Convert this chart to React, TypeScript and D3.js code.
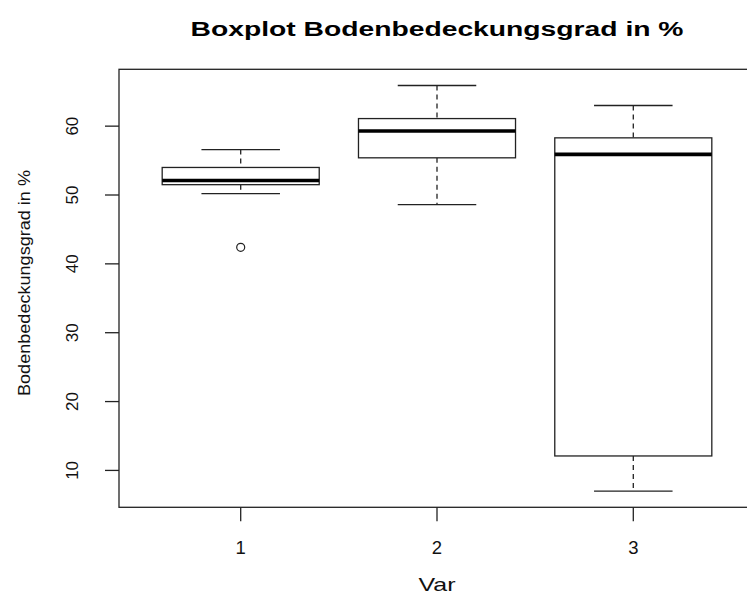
import React from 'react';
import * as d3 from 'd3';

// box statistics
const groups = ['1', '2', '3'];
const whiskerLow = [50.2, 48.6, 7.0];
const q1 = [51.5, 55.4, 12.1];
const median = [52.1, 59.3, 55.9];
const q3 = [54.0, 61.1, 58.3];
const whiskerHigh = [56.6, 65.9, 63.0];
const outlierGroup = [1];
const outlierValue = [42.4];
const yTicks = [10, 20, 30, 40, 50, 60];

const width = 747;
const height = 594;
const plot = { left: 119, right: 755, top: 69.3, bottom: 507.3 };
const font = '"Liberation Sans", Arial, sans-serif';
const ink = '#222';

const App = () => {
    const lo = d3.min(whiskerLow.concat(outlierValue));
    const hi = d3.max(whiskerHigh.concat(outlierValue));
    const pad = (hi - lo) * 0.04;

    const y = d3.scaleLinear()
        .domain([lo - pad, hi + pad])
        .range([plot.bottom, plot.top]);

    // R style x range: 0.5..n+0.5 expanded by 4%
    const n = groups.length;
    const x = d3.scaleLinear()
        .domain([0.5 - n * 0.04, n + 0.5 + n * 0.04])
        .range([plot.left, plot.right]);

    const unit = x(2) - x(1);
    const boxHalf = unit * 0.4;
    const capHalf = unit * 0.2;

    return (
        <svg width={width} height={height} style={{ position: 'absolute', left: 0, top: 0, background: '#fff' }}>
            <text x={437} y={36} textAnchor="middle" fontFamily={font} fontWeight="bold" fontSize={20}
                textLength={493} lengthAdjust="spacingAndGlyphs">
                Boxplot Bodenbedeckungsgrad in %
            </text>

            {/* frame */}
            <rect x={plot.left} y={plot.top} width={plot.right - plot.left} height={plot.bottom - plot.top}
                fill="none" stroke={ink} strokeWidth={1.3} />

            {/* y axis */}
            {yTicks.map(t => (
                <g key={t}>
                    <line x1={plot.left - 14} x2={plot.left} y1={y(t)} y2={y(t)} stroke={ink} strokeWidth={1.3} />
                    <text transform={`translate(78,${y(t)}) rotate(-90)`} textAnchor="middle"
                        fontFamily={font} fontSize={17} fill="#111">{t}</text>
                </g>
            ))}
            <text transform={`translate(30,283) rotate(-90)`} textAnchor="middle" fontFamily={font}
                fontSize={17} textLength={226} lengthAdjust="spacingAndGlyphs" fill="#111">
                Bodenbedeckungsgrad in %
            </text>

            {/* x axis */}
            {groups.map((g, i) => (
                <g key={g}>
                    <line x1={x(i + 1)} x2={x(i + 1)} y1={plot.bottom} y2={plot.bottom + 14} stroke={ink} strokeWidth={1.3} />
                    <text x={x(i + 1)} y={554} textAnchor="middle" fontFamily={font} fontSize={18.5} fill="#111">{g}</text>
                </g>
            ))}
            <text x={437} y={591} textAnchor="middle" fontFamily={font} fontSize={18.5}
                textLength={37} lengthAdjust="spacingAndGlyphs" fill="#111">Var</text>

            {/* boxes */}
            {groups.map((g, i) => {
                const cx = x(i + 1);
                return (
                    <g key={'box' + g} stroke={ink} fill="none">
                        <line x1={cx} x2={cx} y1={y(whiskerHigh[i])} y2={y(q3[i])} strokeDasharray="5,4" strokeWidth={1.3} />
                        <line x1={cx} x2={cx} y1={y(q1[i])} y2={y(whiskerLow[i])} strokeDasharray="5,4" strokeWidth={1.3} />
                        <line x1={cx - capHalf} x2={cx + capHalf} y1={y(whiskerHigh[i])} y2={y(whiskerHigh[i])} strokeWidth={1.3} />
                        <line x1={cx - capHalf} x2={cx + capHalf} y1={y(whiskerLow[i])} y2={y(whiskerLow[i])} strokeWidth={1.3} />
                        <rect x={cx - boxHalf} y={y(q3[i])} width={boxHalf * 2} height={y(q1[i]) - y(q3[i])}
                            fill="#fff" strokeWidth={1.3} />
                        <line x1={cx - boxHalf} x2={cx + boxHalf} y1={y(median[i])} y2={y(median[i])} strokeWidth={3.6} stroke="#000" />
                    </g>
                );
            })}

            {outlierValue.map((v, i) => (
                <circle key={'o' + i} cx={x(outlierGroup[i])} cy={y(v)} r={4} fill="none" stroke={ink} strokeWidth={1.2} />
            ))}
        </svg>
    );
};

export default App;
